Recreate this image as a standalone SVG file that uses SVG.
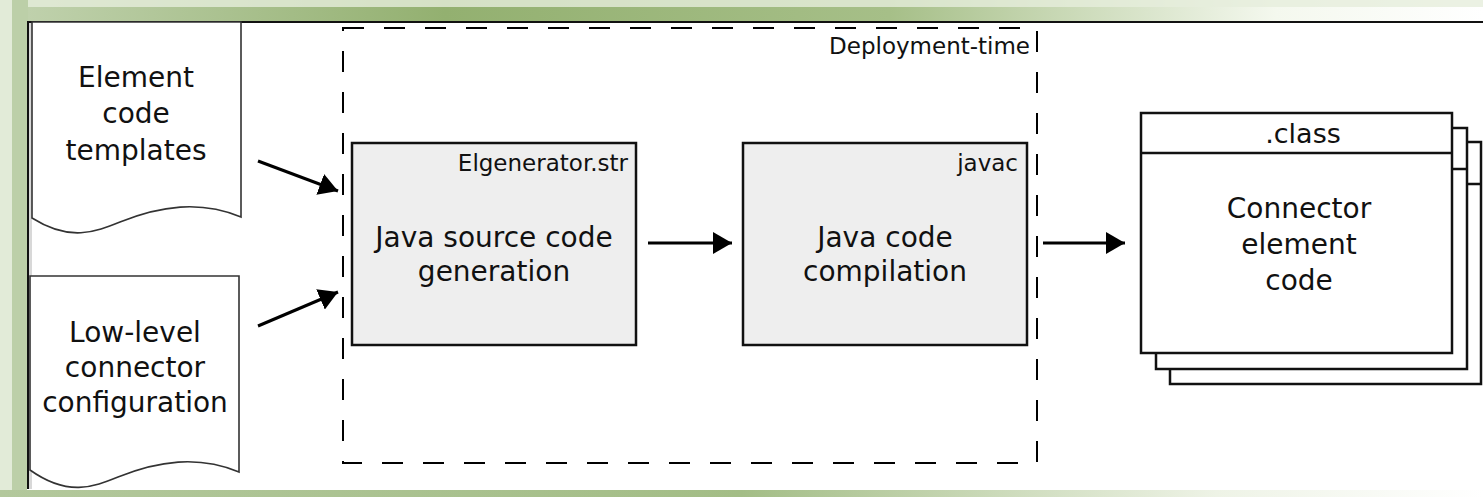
<svg xmlns="http://www.w3.org/2000/svg" width="1483" height="497" viewBox="0 0 1483 497">
<style>
.t{font-family:"DejaVu Sans",sans-serif;fill:#111;}
.big{font-size:28px;}
.small{font-size:23px;}
.doc{fill:#fff;stroke:#333;stroke-width:1.6;}
.proc{fill:#eeeeee;stroke:#111;stroke-width:2.5;}
.cls{fill:#fff;stroke:#111;stroke-width:2.5;}
.conn{stroke:#000;stroke-width:3;fill:none;}
</style>
<defs>
<linearGradient id="topg" x1="0" y1="0" x2="1" y2="0">
<stop offset="0" stop-color="#c2d3b0"/>
<stop offset="0.3" stop-color="#93b070"/>
<stop offset="0.6" stop-color="#a6bf88"/>
<stop offset="0.86" stop-color="#f4f8ee"/>
<stop offset="1" stop-color="#ffffff"/>
</linearGradient>
<linearGradient id="botg" x1="0" y1="0" x2="1" y2="0">
<stop offset="0" stop-color="#b3c89c"/>
<stop offset="0.5" stop-color="#a3bd86"/>
<stop offset="0.82" stop-color="#eef3e6"/>
<stop offset="1" stop-color="#ffffff"/>
</linearGradient>
<marker id="ah" markerUnits="userSpaceOnUse" markerWidth="20" markerHeight="22" refX="19" refY="11" orient="auto">
<path d="M0,0 L19,11 L0,22 z" fill="#000"/>
</marker>
</defs>
<g id="background">
<rect x="0" y="0" width="1483" height="497" fill="#ffffff"/>
<rect x="0" y="0" width="1483" height="22" fill="url(#topg)"/>
<rect x="0" y="0" width="1483" height="7" fill="#e6eedc" opacity="0.8"/>
<rect x="0" y="0" width="28" height="497" fill="#bccfa8"/>
<rect x="0" y="0" width="12" height="497" fill="#e2ebd8"/>
<rect x="0" y="490" width="1483" height="7" fill="url(#botg)"/>
<rect x="27" y="21" width="1456" height="469" fill="#ffffff"/>
<line x1="27" y1="22" x2="1483" y2="22" stroke="#111" stroke-width="2"/>
<line x1="28" y1="21" x2="28" y2="489" stroke="#111" stroke-width="2"/>
<rect x="29" y="23" width="3" height="466" fill="#d8d8d8"/>
</g>
<g id="deployment">
<rect x="343" y="28" width="694" height="435" fill="none" stroke="#000" stroke-width="2" stroke-dasharray="21 20"/>
<text class="t small" x="1030" y="54" text-anchor="end">Deployment-time</text>
</g>
<g id="doc-templates">
<path class="doc" d="M32,22 L241,22 L241,217 C200,200 160,206 120,222 C95,232 70,242 32,218 Z"/>
<text class="t big" x="136" y="87" text-anchor="middle">Element</text>
<text class="t big" x="136" y="123" text-anchor="middle">code</text>
<text class="t big" x="136" y="160" text-anchor="middle">templates</text>
</g>
<g id="doc-config">
<path class="doc" d="M30,276 L239,276 L239,472 C198,455 158,461 118,477 C93,487 68,497 30,470 Z"/>
<text class="t big" x="135" y="342" text-anchor="middle">Low-level</text>
<text class="t big" x="135" y="377" text-anchor="middle">connector</text>
<text class="t big" x="135" y="412" text-anchor="middle">configuration</text>
</g>
<g id="gen">
<rect class="proc" x="352" y="143" width="284" height="202"/>
<text class="t small" x="628" y="171" text-anchor="end">Elgenerator.str</text>
<text class="t big" x="494" y="247" text-anchor="middle">Java source code</text>
<text class="t big" x="494" y="281" text-anchor="middle">generation</text>
</g>
<g id="compile">
<rect class="proc" x="743" y="143" width="284" height="202"/>
<text class="t small" x="1018" y="171" text-anchor="end">javac</text>
<text class="t big" x="885" y="247" text-anchor="middle">Java code</text>
<text class="t big" x="885" y="281" text-anchor="middle">compilation</text>
</g>
<g id="classfiles">
<rect class="cls" x="1170" y="142" width="311" height="242"/>
<line x1="1170" y1="184" x2="1481" y2="184" stroke="#111" stroke-width="2.5"/>
<rect class="cls" x="1156" y="128" width="311" height="241"/>
<line x1="1156" y1="169" x2="1467" y2="169" stroke="#111" stroke-width="2.5"/>
<rect class="cls" x="1141" y="113" width="311" height="240"/>
<line x1="1141" y1="153" x2="1452" y2="153" stroke="#111" stroke-width="2.5"/>
<text class="t" font-size="27" x="1303" y="143" text-anchor="middle">.class</text>
<text class="t big" x="1299" y="218" text-anchor="middle">Connector</text>
<text class="t big" x="1299" y="254" text-anchor="middle">element</text>
<text class="t big" x="1299" y="290" text-anchor="middle">code</text>
</g>
<g id="connectors">
<line class="conn" x1="258" y1="161" x2="338" y2="191" marker-end="url(#ah)"/>
<line class="conn" x1="258" y1="326" x2="338" y2="292" marker-end="url(#ah)"/>
<line class="conn" x1="648" y1="243" x2="732" y2="243" marker-end="url(#ah)"/>
<line class="conn" x1="1043" y1="243" x2="1125" y2="243" marker-end="url(#ah)"/>
</g>
</svg>
